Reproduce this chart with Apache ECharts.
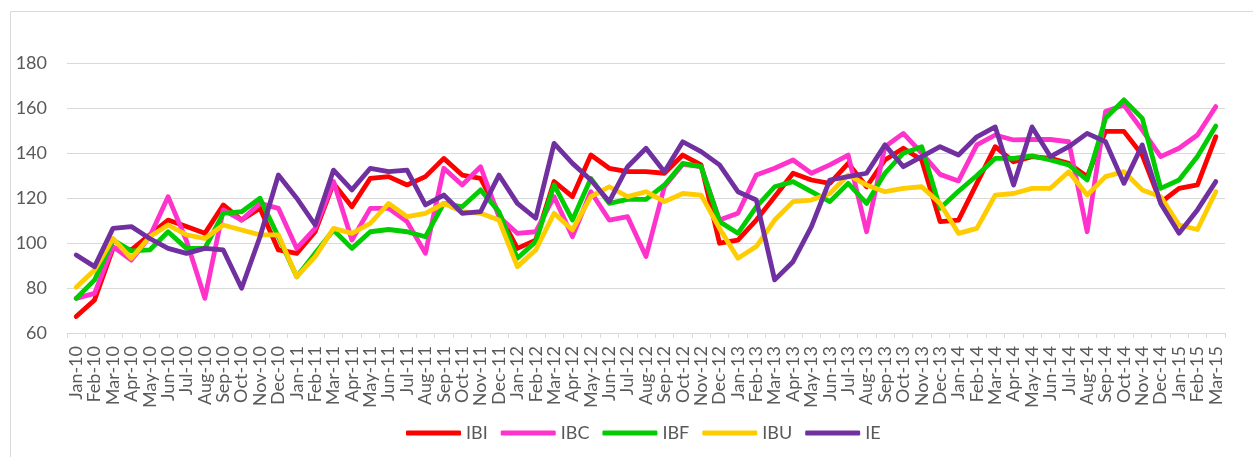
<!DOCTYPE html>
<html>
<head>
<meta charset="utf-8">
<script src="https://cdn.jsdelivr.net/npm/echarts@6/dist/echarts.min.js"></script>
<style>
html,body{margin:0;padding:0;background:#fff;}
#c{width:1253px;height:457px;}
</style>
</head>
<body>
<div id="c"></div>
<script>
const categories = [
 'Jan-10','Feb-10','Mar-10','Apr-10','May-10','Jun-10','Jul-10','Aug-10','Sep-10','Oct-10','Nov-10','Dec-10',
 'Jan-11','Feb-11','Mar-11','Apr-11','May-11','Jun-11','Jul-11','Aug-11','Sep-11','Oct-11','Nov-11','Dec-11',
 'Jan-12','Feb-12','Mar-12','Apr-12','May-12','Jun-12','Jul-12','Aug-12','Sep-12','Oct-12','Nov-12','Dec-12',
 'Jan-13','Feb-13','Mar-13','Apr-13','May-13','Jun-13','Jul-13','Aug-13','Sep-13','Oct-13','Nov-13','Dec-13',
 'Jan-14','Feb-14','Mar-14','Apr-14','May-14','Jun-14','Jul-14','Aug-14','Sep-14','Oct-14','Nov-14','Dec-14',
 'Jan-15','Feb-15','Mar-15'
];
const IBI = [67.3,74.7,97.6,97,103.6,110.2,107.3,104.3,116.9,110.2,115.4,96.9,95.4,105,126.5,116.1,128.7,129.5,125.8,129.5,137.6,130.2,128.7,113.2,97.6,101.3,127.3,120.6,139.1,133.2,131.7,131.7,131,139.1,134.7,99.9,101.3,110.2,120.6,131,128,126.5,135.4,125,136.9,142.1,136.9,109.5,110.2,126.5,142.8,136.1,138.4,137.6,135.4,129.5,149.6,149.6,139.1,118,124.3,125.8,147.2];
const IBC = [75.4,77.6,98.4,92.4,102.8,120.6,101,75.4,114.7,110.2,117.6,115.4,97.6,106.5,127.3,101.3,115.4,115.4,109.5,95.4,133.2,125.8,133.9,111.7,104.3,105,120.6,102.8,122.8,110.2,111.7,94,125,135,133.9,110.2,113.2,130.2,133.2,136.9,131,134.7,139.1,105,142.8,148.7,139.9,130.5,127.6,143.6,148,145.8,146,146,145,105,158.4,161.3,150.2,138.4,142.1,148,160.6];
const IBF = [75.4,83.6,101.3,96.5,96.9,105,97.6,97.6,113.2,113.9,119.9,102.8,85,95.4,105.8,97.6,105,106,105,102.8,117.6,116.1,123.6,113.9,93.2,100.6,125.8,110.2,128.7,117.6,119.4,119.4,125.8,135.4,133.9,109.5,104.3,116.1,125,127.3,122.8,118.4,126.5,117.6,131,139.9,142.8,115.4,123,130,137.6,137.6,138.7,136.9,134.7,128,155.4,163.6,155.4,124.3,128,138.4,152];
const IBU = [80.3,88,102,93.2,102.8,108,103.6,102,108,105.8,103.6,103.6,85,93.9,106.5,104.3,108.7,117.6,111.7,113.2,117.6,113.9,113.2,110.2,89.5,96.9,113.2,105.8,120.6,125,120.6,122.8,118.4,122,121.3,106.5,93.2,98.4,110.2,118.4,119.1,122,130.2,125.8,122.8,124.3,125,117.6,104.3,106.5,121.3,122,124.3,124.3,131.7,121.3,129.5,131.7,123.6,120.6,108,106,122.8];
const IE = [94.7,89.5,106.5,107.3,102,97.6,95.4,97.6,96.9,79.9,102.8,130.2,119.9,108,132.4,123.6,133.2,131.7,132.4,116.9,121.3,113.2,113.9,130.2,117.6,111,144.3,135.4,128,118.4,133.9,142.1,131.7,145,140.6,134.7,122.8,119.1,83.6,91.7,107.3,128,129.5,131,143.6,133.9,138.4,142.8,139.1,147.2,151.6,125.8,151.6,138.4,142.8,148.7,145,126.5,143.6,117.6,104.3,114.7,127.3];
const yTicks = {min: 60, max: 180, interval: 20};

const seriesDefs = [
  {name:'IBI', data: IBI, color:'#FF0000'},
  {name:'IBC', data: IBC, color:'#FF33CC'},
  {name:'IBF', data: IBF, color:'#00CC00'},
  {name:'IBU', data: IBU, color:'#FFCC00'},
  {name:'IE',  data: IE,  color:'#7030A0'}
];

const chart = echarts.init(document.getElementById('c'), null, {renderer:'canvas'});
const font = 'Lato';
chart.setOption({
  animation: false,
  backgroundColor: '#ffffff',
  textStyle: {fontFamily: font},
  graphic: [{
    type: 'rect', silent: true, z: -1,
    shape: {x: 10.5, y: 11.5, width: 1400, height: 600},
    style: {fill: 'none', stroke: '#d9d9d9', lineWidth: 1}
  }],
  grid: {left: 67, right: 28, top: 63, bottom: 124, containLabel: false},
  legend: {
    left: 401, top: 419,
    itemWidth: 55, itemHeight: 5, itemGap: 13,
    icon: 'roundRect',
    textStyle: {fontFamily: font, fontSize: 18, color: '#595959'},
    data: seriesDefs.map(s => s.name)
  },
  xAxis: {
    type: 'category',
    data: categories,
    boundaryGap: true,
    axisLine: {lineStyle: {color: '#d9d9d9', width: 1}},
    axisTick: {show: true, length: 5, interval: 0, lineStyle: {color: '#d9d9d9'}},
    axisLabel: {interval: 0, rotate: 90, margin: 13, fontFamily: font, fontSize: 18, color: '#595959'},
    splitLine: {show: false}
  },
  yAxis: {
    type: 'value',
    min: yTicks.min, max: yTicks.max, interval: yTicks.interval,
    axisLine: {show: false},
    axisTick: {show: false},
    axisLabel: {margin: 20, fontFamily: font, fontSize: 18, color: '#595959'},
    splitLine: {lineStyle: {color: '#d9d9d9', width: 1}}
  },
  series: seriesDefs.map(s => ({
    name: s.name,
    type: 'line',
    data: s.data,
    symbol: 'none',
    smooth: false,
    itemStyle: {color: s.color},
    lineStyle: {color: s.color, width: 4.8, cap: 'round', join: 'round'}
  }))
});
</script>
</body>
</html>
